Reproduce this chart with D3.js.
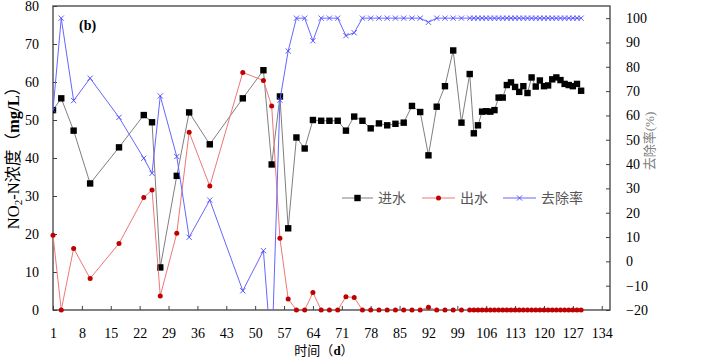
<!DOCTYPE html>
<html><head><meta charset="utf-8">
<script src="https://cdn.jsdelivr.net/npm/d3@7"></script>
<style>
body{margin:0;background:#fff;}
svg{display:block;}
.sf{font-family:"Liberation Serif","Times New Roman","DejaVu Serif",serif;}
.cj{font-family:"Noto Sans CJK SC","Noto Sans CJK JP",sans-serif;}
</style></head>
<body>
<svg id="c" width="722" height="359"></svg>
<script>
const days = [1,3,6,10,17,23,25,27,31,34,39,47,52,54,56,58,60,62,64,66,68,70,72,74,76,78,80,82,84,86,88,90,92,94,96,98,100,102,103,104,105,106,107,108,109,110,111,112,113,114,115,116,117,118,119,120,121,122,123,124,125,126,127,128,129];
const influent = [52.6,55.7,47.2,33.3,42.8,51.3,49.4,11.2,35.3,52.0,43.6,55.7,63.1,38.3,56.2,21.5,45.4,42.5,50.0,49.8,49.8,49.8,47.2,50.9,49.8,47.8,49.1,48.6,49.0,49.3,53.7,52.1,40.7,53.5,58.9,68.3,49.3,62.1,46.5,48.6,52.2,52.3,52.2,52.6,55.9,55.9,59.2,59.9,58.7,57.4,58.9,57.1,61.2,58.8,60.4,58.9,59.1,60.7,61.2,60.5,59.5,59.2,58.9,59.5,57.7];
const effluent = [19.7,0,16.2,8.3,17.5,29.6,31.6,3.7,20.2,46.8,32.6,62.5,60.4,53.7,18.9,2.9,0,0,4.6,0,0,0,3.5,3.3,0,0,0,0,0,0,0,0,0.7,0,0,0,0,0,0,0,0,0,0,0,0,0,0,0,0,0,0,0,0,0,0,0,0,0,0,0,0,0,0,0,0];
const removal = [62.2,100,66.1,75.3,59.2,42.4,36.2,68,43.1,9.9,25.2,-12.1,4.4,-40,66.3,86.5,100,100,90.7,100,100,100,92.8,94,100,100,100,100,100,100,100,100,98.3,100,100,100,100,100,100,100,100,100,100,100,100,100,100,100,100,100,100,100,100,100,100,100,100,100,100,100,100,100,100,100,100];
const xTicks = [1,8,15,22,29,36,43,50,57,64,71,78,85,92,99,106,113,120,127,134];
const yLeftTicks = [0,10,20,30,40,50,60,70,80];
const yRightTicks = [-20,-10,0,10,20,30,40,50,60,70,80,90,100];
const seriesNames = ["进水","出水","去除率"];

const svg = d3.select("#c");
const L=53,R=610,T=6,B=310;
const x = d3.scaleLinear().domain([1,136]).range([L,R]);
const yL = d3.scaleLinear().domain([0,80]).range([B,T]);
const yR = d3.scaleLinear().domain([-20,105]).range([B,T]);

svg.append("defs").append("clipPath").attr("id","clip")
  .append("rect").attr("x",L).attr("y",T).attr("width",R-L).attr("height",B-T);

// axes
const gx = svg.append("g").attr("transform",`translate(0,${B})`)
  .call(d3.axisBottom(x).tickValues(xTicks).tickSize(-4).tickPadding(18).tickFormat(d3.format("d")));
const gl = svg.append("g").attr("transform",`translate(${L},0)`)
  .call(d3.axisLeft(yL).tickValues(yLeftTicks).tickSize(-4).tickPadding(14));
const gr = svg.append("g").attr("transform",`translate(${R},0)`)
  .call(d3.axisRight(yR).tickValues(yRightTicks).tickSize(-4).tickPadding(16));
[gx,gl,gr].forEach(g=>{
  g.attr("font-family",null).attr("font-size",null).attr("class","sf");
  g.select(".domain").remove();
  g.selectAll(".tick line").attr("stroke","#404040");
  g.selectAll("text").style("font-size","14px").attr("fill","#000");
});

// frame
svg.append("rect").attr("x",L).attr("y",T).attr("width",R-L).attr("height",B-T)
  .attr("fill","none").attr("stroke","#404040").attr("stroke-width",1.3);

const plot = svg.append("g").attr("clip-path","url(#clip)");
const idx = d3.range(days.length);

// influent
plot.append("path").datum(idx).attr("fill","none").attr("stroke","#7f7f7f").attr("stroke-width",1)
  .attr("d",d3.line().x(i=>x(days[i])).y(i=>yL(influent[i])));
plot.selectAll(".sq").data(idx).join("rect").attr("class","sq")
  .attr("x",i=>x(days[i])-3.2).attr("y",i=>yL(influent[i])-3.2).attr("width",6.4).attr("height",6.4)
  .attr("fill","#000");

// effluent
plot.append("path").datum(idx).attr("fill","none").attr("stroke","#ee7777").attr("stroke-width",1)
  .attr("d",d3.line().x(i=>x(days[i])).y(i=>yL(effluent[i])));
svg.append("g").selectAll("circle").data(idx).join("circle")
  .attr("cx",i=>x(days[i])).attr("cy",i=>yL(effluent[i])).attr("r",2.5).attr("fill","#c00000");

// removal
plot.append("path").datum(idx).attr("fill","none").attr("stroke","#6666ff").attr("stroke-width",1)
  .attr("d",d3.line().x(i=>x(days[i])).y(i=>yR(removal[i])));
const xm = (g,cx,cy)=>g.append("path").attr("d",`M${cx-2.6},${cy-2.6}L${cx+2.6},${cy+2.6}M${cx-2.6},${cy+2.6}L${cx+2.6},${cy-2.6}`)
  .attr("stroke","#4a4aff").attr("stroke-width",0.9).attr("fill","none");
const gm = plot.append("g");
idx.forEach(i=>xm(gm,x(days[i]),yR(removal[i])));

// (b)
svg.append("text").attr("class","sf").attr("x",79).attr("y",30).style("font-weight","bold")
  .style("font-size","14px").text("(b)");

// legend
const lg = svg.append("g");
const ly = 198;
const items = [{x0:342,x1:373,tx:378},{x0:422,x1:455,tx:460},{x0:503,x1:536,tx:541}];
const lcols = ["#7f7f7f","#ee7777","#6666ff"];
items.forEach((it,k)=>{
  lg.append("line").attr("x1",it.x0).attr("x2",it.x1).attr("y1",ly).attr("y2",ly).attr("stroke",lcols[k]).attr("stroke-width",1);
  const cx=(it.x0+it.x1)/2;
  if(k===0) lg.append("rect").attr("x",cx-3.2).attr("y",ly-3.2).attr("width",6.4).attr("height",6.4).attr("fill","#000");
  if(k===1) lg.append("circle").attr("cx",cx).attr("cy",ly).attr("r",2.5).attr("fill","#c00000");
  if(k===2) xm(lg,cx,ly);
  lg.append("text").attr("class","cj").attr("x",it.tx).attr("y",ly+5).style("font-size","14px")
    .attr("fill","#555").text(seriesNames[k]);
});

// left title
const lt = svg.append("text").attr("class","sf").attr("transform","translate(19,154) rotate(-90)").attr("text-anchor","middle")
  .style("font-size","16.5px").attr("fill","#000");
lt.append("tspan").text("NO");
lt.append("tspan").style("font-size","11px").attr("dy",3).text("2");
lt.append("tspan").attr("dy",-3).text("-N");
lt.append("tspan").attr("class","cj").text("浓度（");
lt.append("tspan").style("font-weight","bold").text("mg/L");
lt.append("tspan").attr("class","cj").text("）");

// right title
const rt = svg.append("text").attr("transform","translate(654,141) rotate(-90)").attr("text-anchor","middle")
  .style("font-size","13px").attr("fill","#808080");
rt.append("tspan").attr("class","cj").text("去除率");
rt.append("tspan").attr("class","sf").text("(%)");

// x title
const xt = svg.append("text").attr("x",324).attr("y",355).attr("text-anchor","middle").style("font-size","13px").attr("fill","#000");
xt.append("tspan").attr("class","cj").text("时间（");
xt.append("tspan").attr("class","sf").style("font-weight","bold").text("d");
xt.append("tspan").attr("class","cj").text("）");
</script>
</body></html>
